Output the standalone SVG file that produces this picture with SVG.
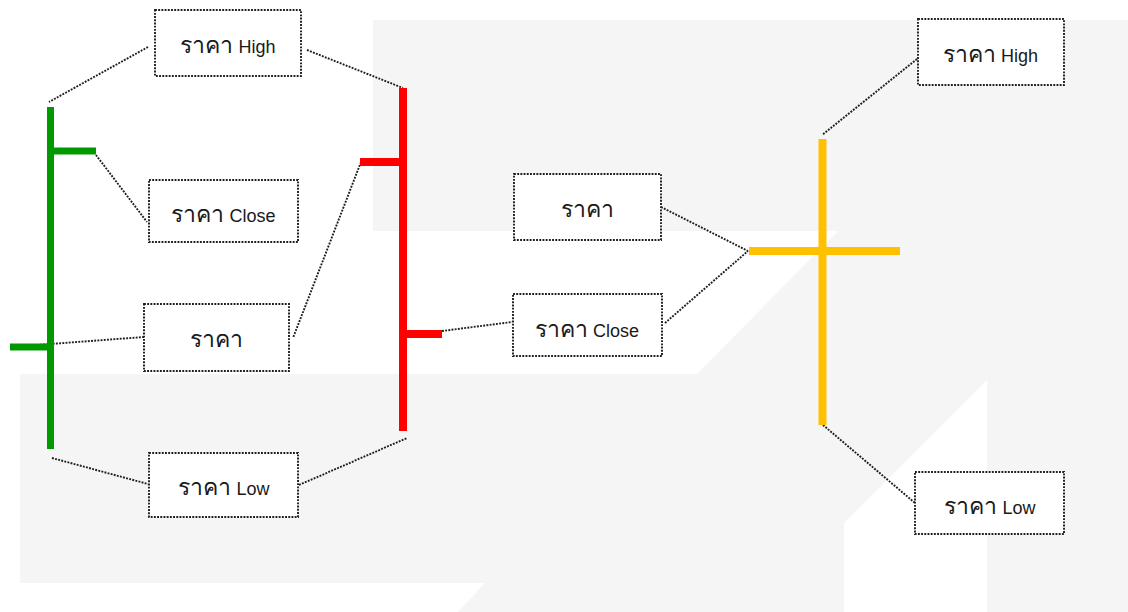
<svg xmlns="http://www.w3.org/2000/svg" width="1128" height="612" viewBox="0 0 1128 612">
<style>
.bg{fill:#f5f5f5}
.wh{fill:#ffffff}
.box{fill:#ffffff;stroke:#1e1e1e;stroke-width:1.9;stroke-dasharray:1.9 1.3}
.lbl{font-family:"Liberation Sans","Noto Sans","DejaVu Sans",sans-serif;font-size:18px;fill:#1a1a1a;text-anchor:middle}
.th{font-size:23px}
.con{fill:none;stroke:#1e1e1e;stroke-width:1.9;stroke-dasharray:1.9 1.3}
.g{stroke:#009900;stroke-width:7;fill:none}
.r{stroke:#ff0000;stroke-width:8;fill:none}
.y{stroke:#ffc000;stroke-width:8;fill:none}
</style>
<rect x="0" y="0" width="1128" height="612" fill="#ffffff"/>
<g id="background">
<rect class="bg" x="20" y="20" width="1108" height="592"/>
<polygon class="wh" points="0,0 1128,0 1128,20 373,20 373,231 838,231 697,374 20,374 20,612 0,612"/>
<polygon class="wh" points="20,583 485,583 458,612 20,612"/>
<polygon class="wh" points="844,523 987,380 987,612 844,612"/>
</g>
<g id="connectors">
<line class="con" x1="148" y1="47" x2="49" y2="102"/>
<line class="con" x1="307" y1="50" x2="403" y2="88"/>
<line class="con" x1="96" y1="155" x2="147" y2="222"/>
<line class="con" x1="361" y1="162" x2="293" y2="338"/>
<line class="con" x1="144" y1="337" x2="10" y2="347"/>
<line class="con" x1="52" y1="458" x2="148" y2="484"/>
<line class="con" x1="299" y1="485" x2="407" y2="438"/>
<line class="con" x1="442" y1="331" x2="512" y2="322"/>
<line class="con" x1="661" y1="207" x2="748" y2="251"/>
<line class="con" x1="665" y1="323" x2="748" y2="251"/>
<line class="con" x1="917" y1="59" x2="822" y2="135"/>
<line class="con" x1="823" y1="425" x2="915" y2="503"/>
</g>
<g id="candle-green">
<line class="g" x1="50.5" y1="107" x2="50.5" y2="449"/>
<line class="g" x1="50" y1="151" x2="96" y2="151"/>
<line class="g" x1="10" y1="347" x2="51" y2="347"/>
</g>
<g id="candle-red">
<line class="r" x1="403" y1="88" x2="403" y2="431"/>
<line class="r" x1="360" y1="162" x2="403" y2="162"/>
<line class="r" x1="403" y1="334" x2="442" y2="334"/>
</g>
<g id="candle-doji">
<line class="y" x1="822.5" y1="139" x2="822.5" y2="425"/>
<line class="y" x1="749" y1="251" x2="900" y2="251"/>
</g>
<g id="left-high">
<rect class="box" x="155" y="10" width="146" height="66"/>
<text class="lbl" x="228" y="53"><tspan class="th">ราคา</tspan> High</text>
</g>
<g id="left-close">
<rect class="box" x="149" y="180" width="149" height="62"/>
<text class="lbl" x="223.5" y="222"><tspan class="th">ราคา</tspan> Close</text>
</g>
<g id="left-price">
<rect class="box" x="144" y="304" width="145" height="67"/>
<text class="lbl" x="216" y="347"><tspan class="th">ราคา</tspan></text>
</g>
<g id="left-low">
<rect class="box" x="149" y="453" width="149" height="64"/>
<text class="lbl" x="224" y="495"><tspan class="th">ราคา</tspan> Low</text>
</g>
<g id="mid-price">
<rect class="box" x="514" y="174" width="147" height="66"/>
<text class="lbl" x="587" y="217"><tspan class="th">ราคา</tspan></text>
</g>
<g id="mid-close">
<rect class="box" x="513" y="294" width="149" height="62"/>
<text class="lbl" x="587" y="337"><tspan class="th">ราคา</tspan> Close</text>
</g>
<g id="right-high">
<rect class="box" x="918" y="19" width="146" height="66"/>
<text class="lbl" x="990.5" y="62"><tspan class="th">ราคา</tspan> High</text>
</g>
<g id="right-low">
<rect class="box" x="915" y="472" width="149" height="62"/>
<text class="lbl" x="990" y="514"><tspan class="th">ราคา</tspan> Low</text>
</g>
</svg>
